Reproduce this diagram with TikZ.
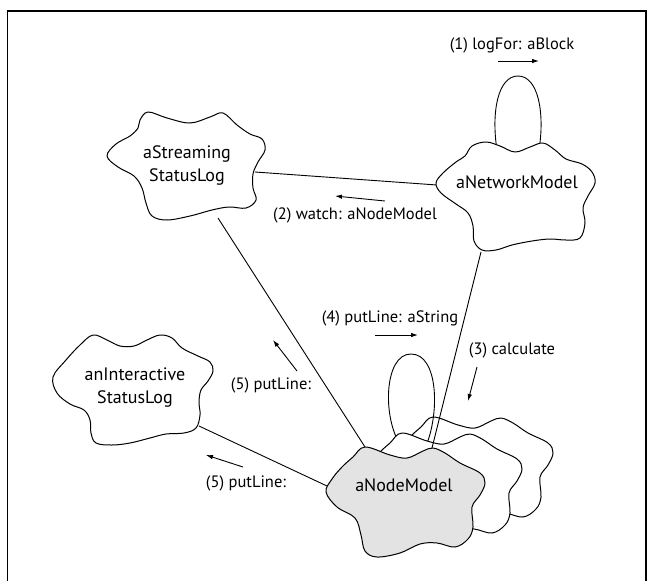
\documentclass[tikz,border=0pt]{standalone}
\usepackage{fontspec}
\setmainfont{PT Sans}
\usetikzlibrary{arrows.meta}

% outline of one aNodeModel blob; #1 = extra options (shift, fill)
\newcommand\modelblob[1]{%
  \filldraw[blob,#1] plot[smooth cycle,tension=0.6] coordinates {
    (365,447) (390,455) (407,458) (423,451) (433,448) (445,453)
    (460,463) (480,473) (485,483) (480,495) (472,507) (473,527)
    (468,539) (455,547) (437,543) (420,544) (400,553) (377,557)
    (365,551) (361,535) (355,518) (337,507) (326,492) (332,479)
    (342,467) (353,457)};}

\begin{document}
\begin{tikzpicture}[x=1pt,y=-1pt,
  conn/.style={line width=0.9pt},
  msg/.style={line width=0.9pt,-{Latex[length=7pt,width=4.5pt]}},
  blob/.style={line width=1pt,fill=white,line join=round},
  lbl/.style={font=\fontsize{16.5}{20}\selectfont,inner sep=0pt},
  objname/.style={font=\fontsize{18}{23}\selectfont,align=center,inner sep=0pt},
]
\useasboundingbox (0,0) rectangle (650,581);

% frame
\draw[line width=1.4pt] (7.5,581) -- (7.5,11) -- (646,11) -- (646,581);

% link end points on the object outlines
\coordinate (stream-e) at (255,172);
\coordinate (stream-s) at (218,218);
\coordinate (net-w)    at (437,185);
\coordinate (net-s)    at (481,252);
\coordinate (inter-e)  at (199,426);
\coordinate (node-nw)  at (365,447);
\coordinate (node-w)   at (327,486);
\coordinate (node-n)   at (432,448);

% links behind the objects
\draw[conn] (stream-e) -- (net-w);
\draw[conn] (stream-s) -- (node-nw);
\draw[conn] (inter-e) -- (node-w);

% self-call loop of aNetworkModel
\coordinate (netloop-a) at (497,150);
\coordinate (netloop-b) at (539,150);
\draw[conn] (netloop-a) .. controls (491,112) and (498,76) .. (518,76)
                        .. controls (538,76) and (545,112) .. (netloop-b);

% messages
\coordinate (m1a) at (498,61);  \coordinate (m1b) at (539,61);
\coordinate (m2a) at (385,201); \coordinate (m2b) at (335,196);
\coordinate (m3a) at (477,367); \coordinate (m3b) at (468,401);
\coordinate (m4a) at (375,335); \coordinate (m4b) at (418,335);
\coordinate (m5a) at (297,371); \coordinate (m5b) at (273,340);
\coordinate (m6a) at (243,467); \coordinate (m6b) at (206,455);
\draw[msg] (m1a) -- (m1b);
\draw[msg] (m2a) -- (m2b);
\draw[msg] (m3a) -- (m3b);
\draw[msg] (m4a) -- (m4b);
\draw[msg] (m5a) -- (m5b);
\draw[msg] (m6a) -- (m6b);

\node[lbl] (l1) at (512,45)  {(1) logFor: aBlock};
\node[lbl] (l2) at (355,215) {(2) watch: aNodeModel};
\node[lbl] (l3) at (512,350) {(3) calculate};
\node[lbl] (l4) at (390,318) {(4) putLine: aString};
\node[lbl] (l5) at (271,385) {(5) putLine:};
\node[lbl] (l6) at (246,483) {(5) putLine:};

% aStreamingStatusLog
\filldraw[blob] plot[smooth cycle,tension=0.6] coordinates {
  (140,120) (148,112) (167,118) (190,123) (210,117) (223,113)
  (237,125) (250,134) (262,139) (265,150) (258,162) (253,174)
  (253,188) (256,200) (246,208) (229,207) (212,210) (190,216)
  (167,220) (152,216) (146,203) (142,188) (134,176) (118,167)
  (107,156) (116,144) (130,136) (138,128)};
\node[objname] (stream) at (187,165) {aStreaming\\StatusLog};

% aNetworkModel
\filldraw[blob] plot[smooth cycle,tension=0.6] coordinates {
  (465,156) (472,146) (486,142) (500,146) (515,152) (530,147)
  (543,143) (555,150) (566,159) (582,164) (592,172) (595,183)
  (588,196) (583,208) (585,223) (580,238) (566,240) (550,239)
  (532,241) (512,245) (496,250) (482,250) (474,241) (473,226)
  (468,213) (456,204) (441,193) (436,183) (443,173) (456,162)};
\node[objname] (net) at (517,182) {aNetworkModel};

% anInteractiveStatusLog
\filldraw[blob] plot[smooth cycle,tension=0.6] coordinates {
  (53,377) (66,360) (80,345) (93,335) (107,340) (120,346)
  (134,346) (147,340) (160,335) (172,338) (182,348) (198,356)
  (210,362) (213,371) (208,381) (201,390) (199,402) (200,415)
  (196,428) (184,433) (166,434) (150,438) (130,443) (112,445)
  (96,443) (91,433) (90,420) (84,410) (70,404) (57,393)};
\node[objname] (inter) at (135,388) {anInteractive\\StatusLog};

% stack of aNodeModel objects
\modelblob{shift={(68,-30)}}
\coordinate (nodeloop-a) at (401,446);
\coordinate (nodeloop-b) at (426,446);
\draw[conn] (nodeloop-a) .. controls (382,418) and (384,354) .. (411,354)
                         .. controls (438,354) and (440,412) .. (nodeloop-b);
\modelblob{shift={(37,-14)}}
\draw[conn] (net-s) -- (node-n);
\modelblob{fill={rgb,255:red,227;green,227;blue,227}}
\node[objname] (node) at (404,485) {aNodeModel};
\end{tikzpicture}
\end{document}
